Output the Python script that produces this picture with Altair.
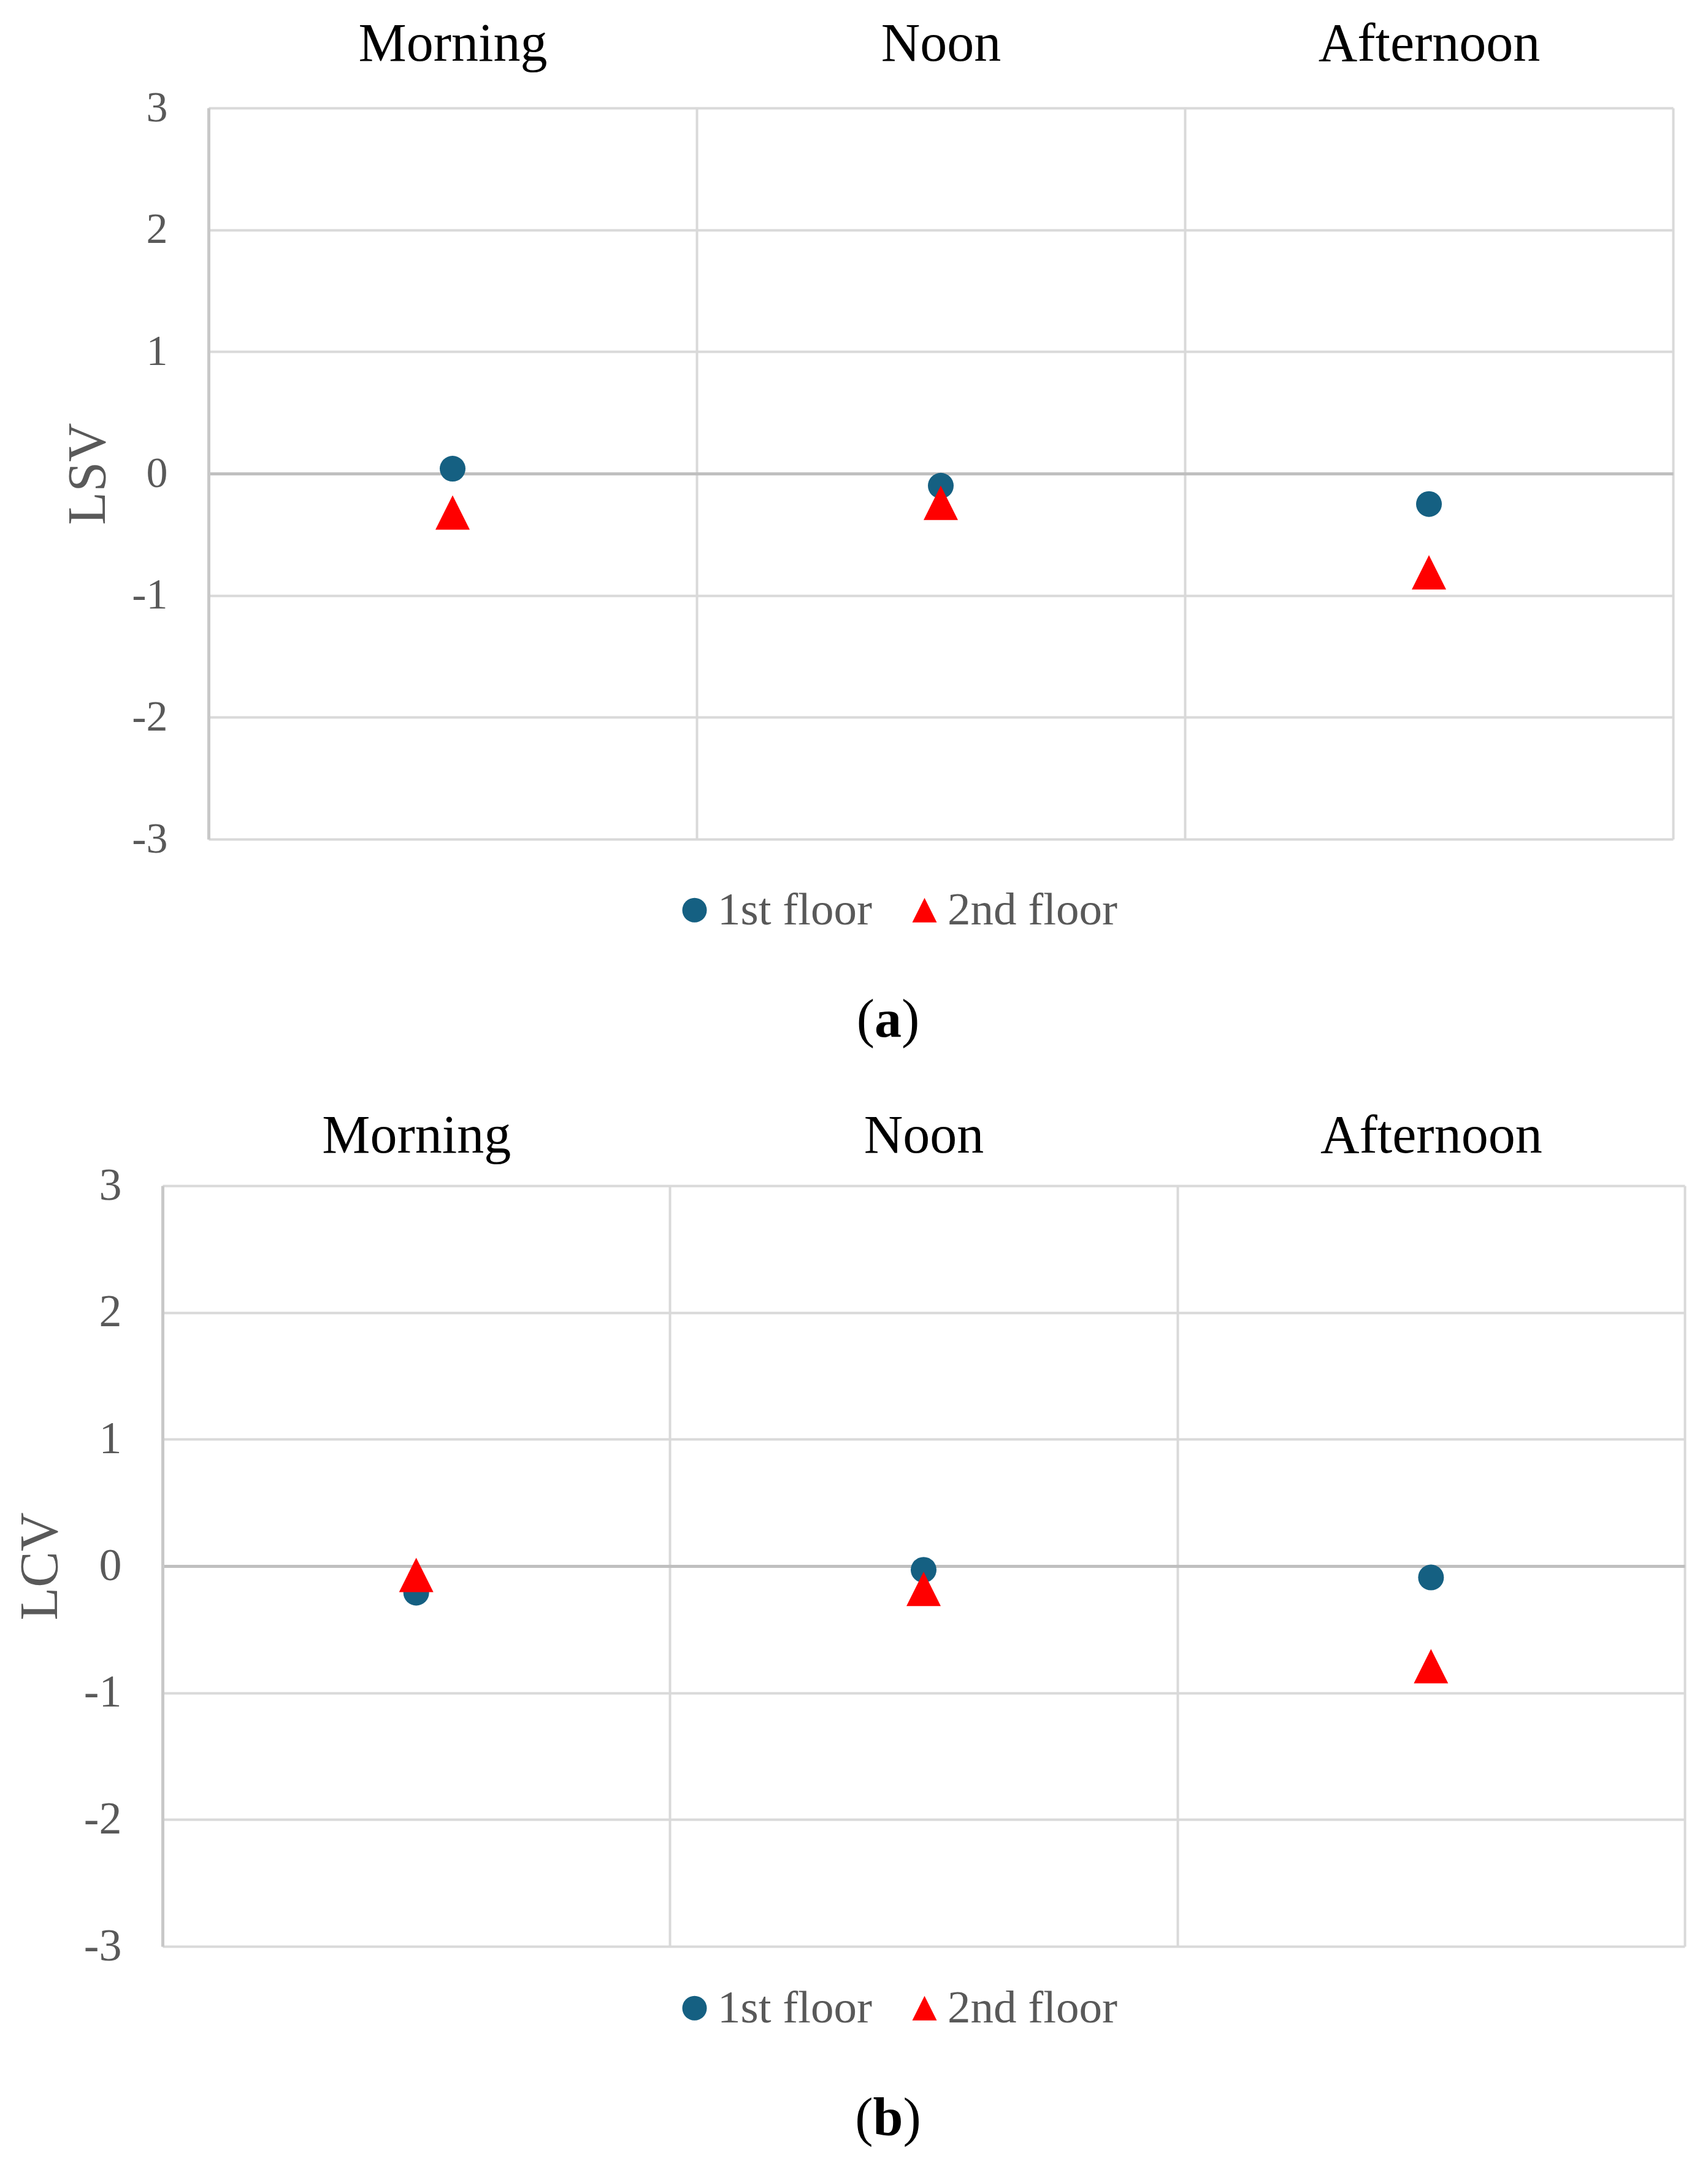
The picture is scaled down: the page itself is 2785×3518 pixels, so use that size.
import altair as alt
import pandas as pd

# ---- data ----
periods = ["Morning", "Noon", "Afternoon"]
floors = ["1st floor", "2nd floor"]
lsv_1st = [0.04, -0.10, -0.25]
lsv_2nd = [-0.32, -0.24, -0.81]
lcv_1st = [-0.21, -0.03, -0.09]
lcv_2nd = [-0.07, -0.18, -0.79]
y_ticks = [-3, -2, -1, 0, 1, 2, 3]
y_titles = ["LSV", "LCV"]
panel_letters = ["a", "b"]

FONT = "Liberation Serif"
BLUE = "#156082"
RED = "#FF0000"
TRI = "M0,-1L1,1L-1,1Z"
GRID = "#d9d9d9"
DARK = "#bfbfbf"
LABEL = "#595959"


def frame(v1, v2):
    rows = []
    for p, v in zip(periods, v1):
        rows.append({"period": p, "floor": floors[0], "value": v})
    for p, v in zip(periods, v2):
        rows.append({"period": p, "floor": floors[1], "value": v})
    return pd.DataFrame(rows)


def panel(df, ytitle, letter, width, height, x_start, y_offset, tick_fs,
          top_pad, legend_x, legend_y, cap_x, cap_y, letter_w):
    legend = alt.Legend(
        orient="none", legendX=legend_x, legendY=legend_y,
        direction="horizontal", title=None,
        labelFont=FONT, labelFontSize=75, labelColor=LABEL, labelLimit=0,
        symbolSize=1600, symbolStrokeWidth=0, labelOffset=0,
        columnPadding=47, padding=0,
    )
    x_scale = alt.Scale(domain=periods, paddingInner=0, paddingOuter=0,
                        range=[x_start, width])
    points = alt.Chart(df).mark_point(filled=True, opacity=1).encode(
        x=alt.X(
            "period:N", sort=periods, scale=x_scale,
            axis=alt.Axis(
                orient="top", title=None, tickBand="extent", grid=True,
                gridColor=GRID, gridWidth=4, ticks=False, tickSize=0,
                domain=False, labelAngle=0, labelFont=FONT, labelFontSize=88,
                labelColor="black", labelBaseline="alphabetic", labelLimit=0,
                labelPadding=top_pad,
            ),
        ),
        y=alt.Y(
            "value:Q",
            scale=alt.Scale(domain=[-3, 3], nice=False, zero=False),
            axis=alt.Axis(
                values=y_ticks, title=ytitle, offset=y_offset, grid=True,
                gridColor={"condition": {"test": "datum.value === 0", "value": DARK},
                           "value": GRID},
                gridWidth={"condition": {"test": "datum.value === 0", "value": 5},
                           "value": 4},
                ticks=False, tickSize=0, domain=True, domainColor="#c8c8c8",
                domainWidth=5, labelExpr="'' + datum.value",
                labelFont=FONT, labelFontSize=tick_fs, labelColor=LABEL,
                labelPadding=67, titleFont=FONT, titleFontSize=88,
                titleFontWeight="normal", titleColor=LABEL, titlePadding=26,
            ),
        ),
        color=alt.Color("floor:N", scale=alt.Scale(domain=floors, range=[BLUE, RED]),
                        legend=legend),
        shape=alt.Shape("floor:N", scale=alt.Scale(domain=floors, range=["circle", TRI]),
                        legend=legend),
        size=alt.condition(f"datum.floor === '{floors[1]}'", alt.value(3136),
                           alt.value(1764)),
    )
    cap_df = pd.DataFrame({"k": [0]})
    common = dict(baseline="alphabetic", font=FONT, fontSize=88, color="black")
    open_p = alt.Chart(cap_df).mark_text(text="(", align="right", **common).encode(
        x=alt.value(cap_x - letter_w / 2), y=alt.value(cap_y))
    mid = alt.Chart(cap_df).mark_text(text=letter, align="center", fontWeight="bold",
                                      **common).encode(
        x=alt.value(cap_x), y=alt.value(cap_y))
    close_p = alt.Chart(cap_df).mark_text(text=")", align="left", **common).encode(
        x=alt.value(cap_x + letter_w / 2), y=alt.value(cap_y))
    return alt.layer(points, open_p, mid, close_p).properties(width=width, height=height)


chart_a = panel(frame(lsv_1st, lsv_2nd), y_titles[0], panel_letters[0],
                width=2463, height=1192, x_start=75, y_offset=-75, tick_fs=70,
                top_pad=78, legend_x=830, legend_y=1270, cap_x=1183, cap_y=1514,
                letter_w=44)
chart_b = panel(frame(lcv_1st, lcv_2nd), y_titles[1], panel_letters[1],
                width=2482, height=1240, x_start=0, y_offset=0, tick_fs=74,
                top_pad=55, legend_x=830, legend_y=1303, cap_x=1183, cap_y=1548,
                letter_w=49)

chart = alt.vconcat(chart_a, chart_b, spacing=98).resolve_scale(
    color="independent", shape="independent"
).resolve_legend(
    color="independent", shape="independent"
).properties(
    padding={"left": 13, "top": 19, "right": 10, "bottom": 10},
    background="white",
).configure_view(stroke="transparent")

chart.save("out.html", embed_options={"renderer": "svg", "actions": False})
